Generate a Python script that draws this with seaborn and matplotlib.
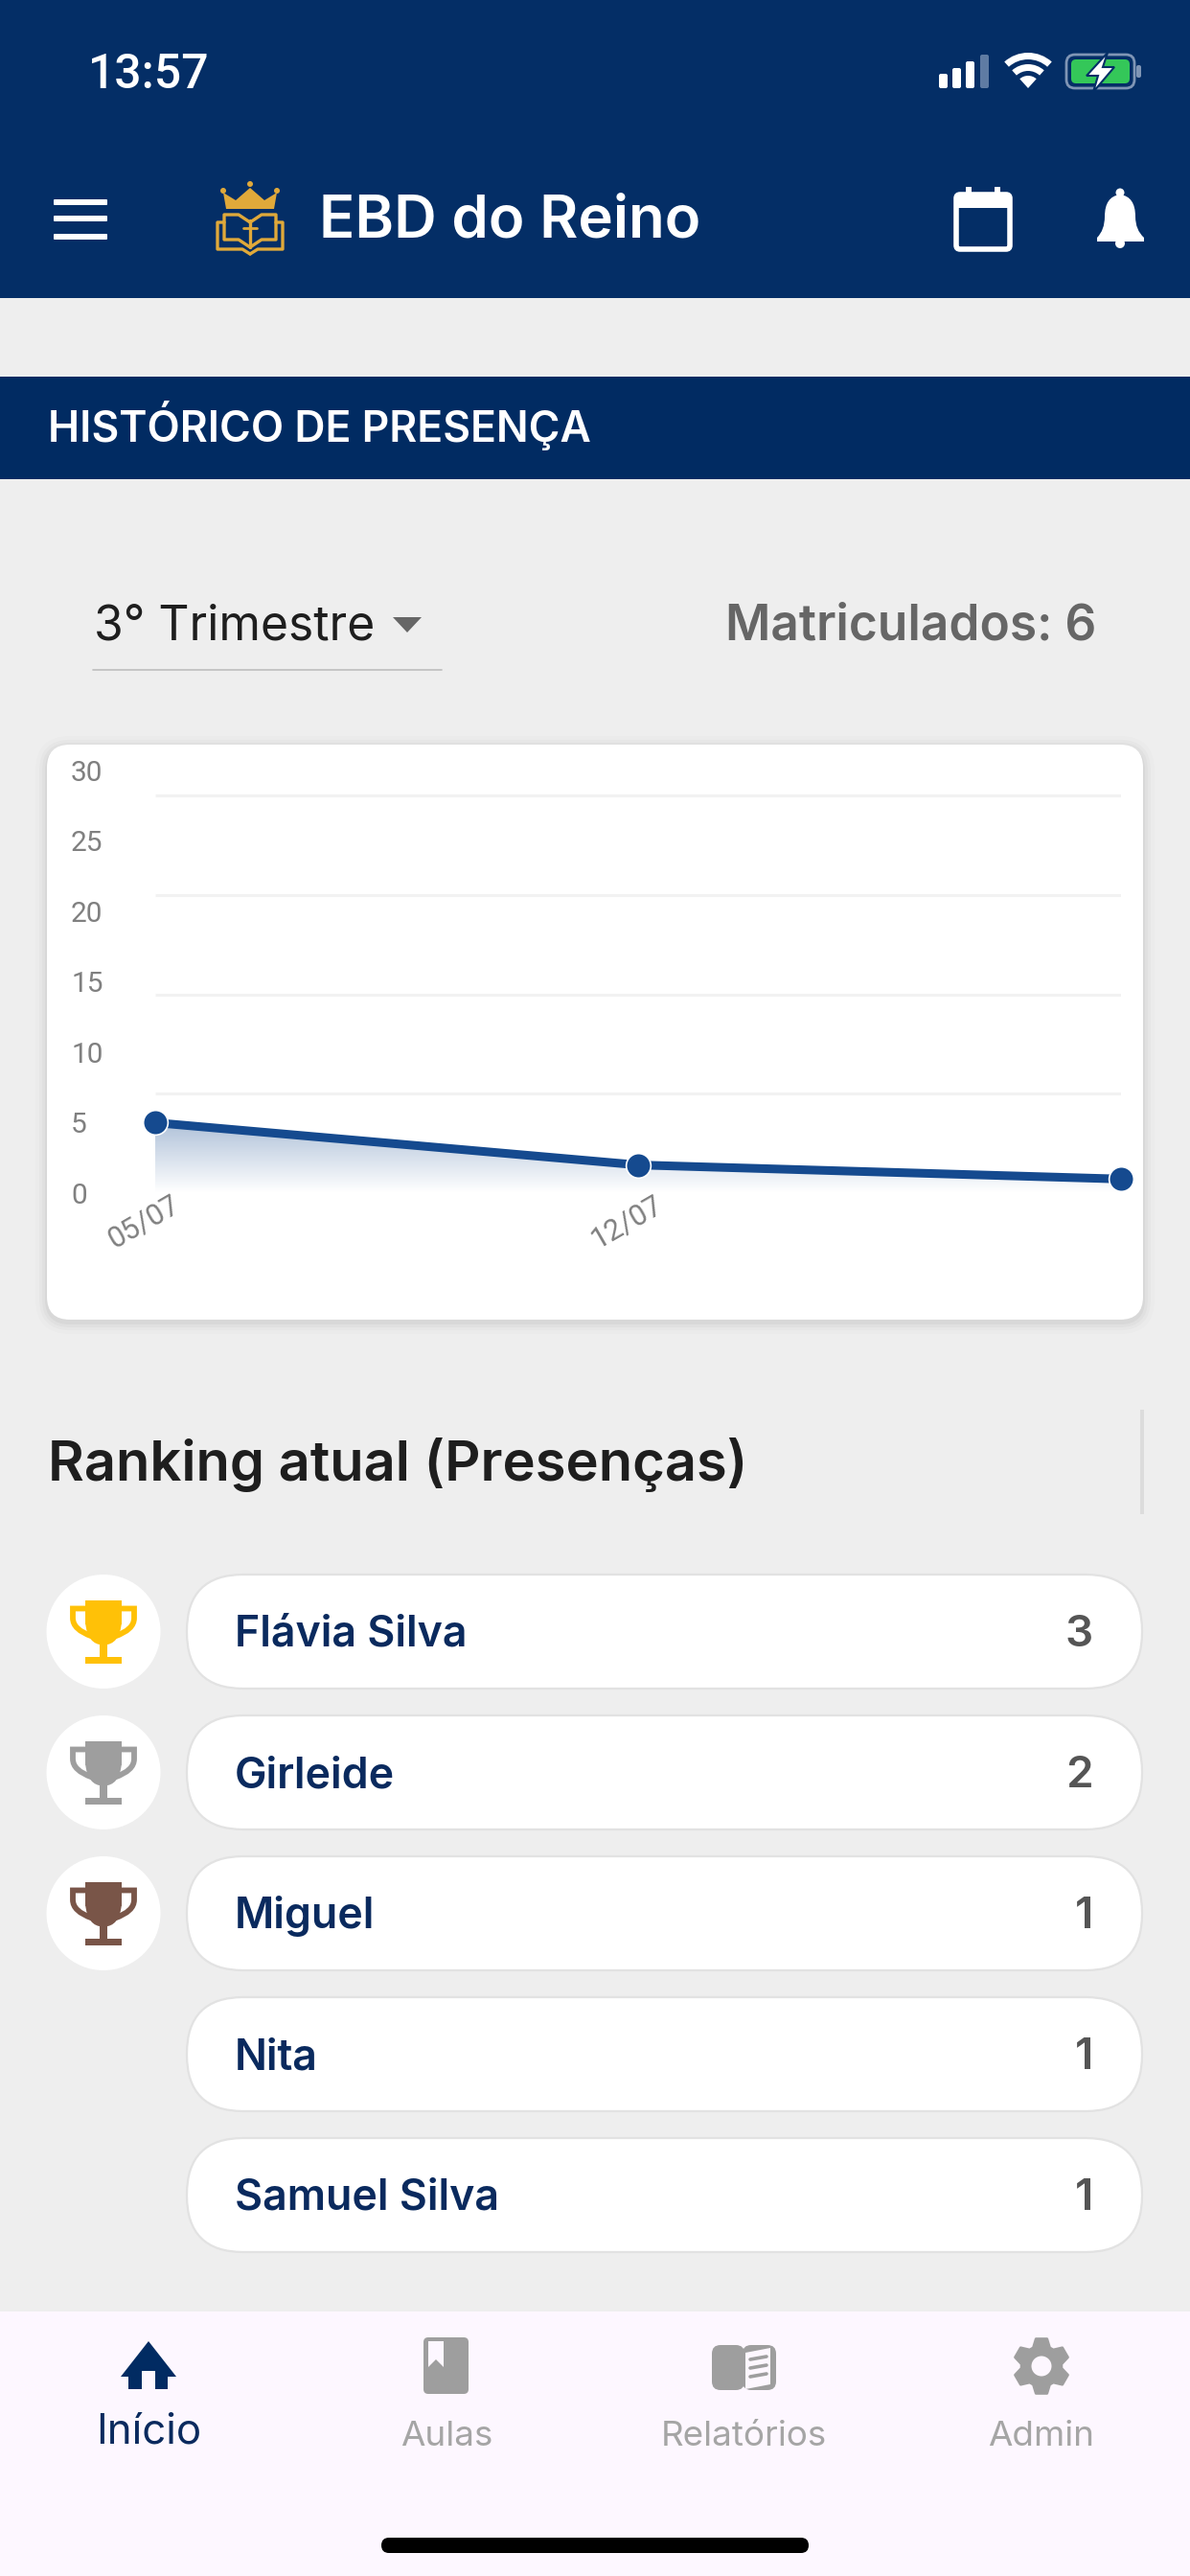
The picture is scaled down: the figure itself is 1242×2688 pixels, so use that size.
import numpy as np
import pandas as pd
import matplotlib
matplotlib.use('Agg')
import matplotlib.pyplot as plt
import seaborn as sns
from matplotlib.path import Path
from matplotlib.patches import Circle, FancyBboxPatch, PathPatch, Polygon, Rectangle, Wedge
from matplotlib.transforms import ScaledTranslation

# chart values
DAYS = [0, 1, 2]
DAY_LABELS = ['05/07', '12/07', '']
PRESENCES = [5, 2, 1]
Y_TICKS = [0, 5, 10, 15, 20, 25, 30]
GRID_LEVELS = [7.07, 14.1, 21.15, 28.2]

# ranking list
NAMES = ['Flávia Silva', 'Girleide', 'Miguel', 'Nita', 'Samuel Silva']
COUNTS = [3, 2, 1, 1, 1]
TROPHY_COLORS = ['#FFC107', '#9E9E9E', '#795548']

# bottom tabs
TABS = ['Início', 'Aulas', 'Relatórios', 'Admin']

NAVY = '#042E66'
BAND = '#012B62'
TEXT_NAVY = '#0A2A5E'
LINE_BLUE = '#154A8F'
GOLD = '#E0A93A'
ICON_GREY = '#9E9E9E'
BG = '#EEEEEE'
NAV_BG = '#FDF7FF'
WIDE = ['Inter', 'Roboto', 'DejaVu Sans']

sns.set_theme(style='white')
plt.rcParams['font.family'] = ['Roboto', 'DejaVu Sans']

fig = plt.figure(figsize=(12.42, 26.88), dpi=100, facecolor=BG)
bg = fig.add_axes([0, 0, 1, 1])
bg.set_xlim(0, 1242)
bg.set_ylim(2688, 0)
bg.axis('off')


def rbox(x0, y0, x1, y1, r, **kw):
    p = FancyBboxPatch((x0, y0), x1 - x0, y1 - y0, boxstyle=f'round,pad=0,rounding_size={r}', **kw)
    bg.add_patch(p)
    return p


def rect(x0, y0, x1, y1, color, **kw):
    bg.add_patch(Rectangle((x0, y0), x1 - x0, y1 - y0, facecolor=color, edgecolor='none', **kw))


def curve(verts, codes, **kw):
    bg.add_patch(PathPatch(Path(verts, codes), **kw))


M, L, C3, Z = Path.MOVETO, Path.LINETO, Path.CURVE3, Path.CLOSEPOLY


def draw_trophy(cx, cy, color):
    rect(cx - 19, cy - 33, cx + 19, cy - 8, color)
    curve([(cx - 19, cy - 10), (cx - 17, cy + 14), (cx, cy + 14), (cx + 17, cy + 14), (cx + 19, cy - 10), (cx - 19, cy - 10)],
          [M, C3, C3, C3, C3, Z], facecolor=color, edgecolor='none')
    rect(cx - 4, cy + 8, cx + 4, cy + 28, color)
    rect(cx - 19, cy + 26, cx + 19, cy + 33, color)
    for s in (-1, 1):
        curve([(cx + s * 19, cy - 24), (cx + s * 32, cy - 24), (cx + s * 32, cy - 14), (cx + s * 32, cy - 2), (cx + s * 12, cy + 5)],
              [M, L, L, C3, C3], facecolor='none', edgecolor=color, lw=4.2)


def draw_status_bar():
    bg.text(92, 92, '13:57', color='white', fontsize=36, fontweight='medium')
    for i, (x, h) in enumerate(zip([980, 994, 1008, 1023], [15, 21, 28, 35])):
        rbox(x, 92 - h, x + 9, 92, 2, facecolor='white' if i < 3 else '#5F7BA3', edgecolor='none')
    for r, w in [(37, 7), (25, 7)]:
        bg.add_patch(Wedge((1073, 92), r, 228, 312, width=w, facecolor='white', edgecolor='none'))
    bg.add_patch(Wedge((1073, 92), 13, 228, 312, facecolor='white', edgecolor='none'))
    rbox(1113, 57, 1184, 92, 9, facecolor='none', edgecolor='#7F95B5', lw=2)
    rbox(1118, 62, 1179, 87, 5, facecolor='#34C759', edgecolor='none')
    rbox(1186, 68, 1191, 81, 2, facecolor='#7F95B5', edgecolor='none')
    bg.add_patch(Polygon([(1156, 55), (1134, 79), (1146, 79), (1141, 96), (1163, 70), (1151, 70)],
                         facecolor='white', edgecolor=NAVY, lw=1.5))


def draw_app_bar():
    rect(0, 0, 1242, 311, NAVY)
    for y in (211, 228, 247):
        rbox(56, y - 3, 112, y + 3, 1, facecolor='white', edgecolor='none')

    # logo: crown over an open book
    bg.add_patch(Polygon([(236, 218), (233, 201), (246, 209), (261, 196), (276, 209), (289, 201), (286, 218)],
                         facecolor=GOLD, edgecolor='none'))
    for x, y in [(233, 199), (261, 192), (289, 199)]:
        bg.add_patch(Circle((x, y), 3, facecolor=GOLD, edgecolor='none'))
    for s in (-1, 1):
        bg.plot([261, 261 + s * 12, 261 + s * 27, 261 + s * 27, 261 + s * 12, 261],
                [232, 224, 224, 250, 250, 258], color=GOLD, lw=2.4)
        bg.plot([261 + s * 27, 261 + s * 34, 261 + s * 34, 261 + s * 8, 261],
                [232, 232, 260, 260, 265], color=GOLD, lw=2.4)
    bg.plot([261, 261], [230, 258], color=GOLD, lw=2.4)
    bg.plot([254, 268], [238, 238], color=GOLD, lw=2)

    bg.text(333, 248, 'EBD do Reino', color='white', fontsize=44.5, fontweight='semibold', family=WIDE)

    # calendar
    rbox(998, 203, 1054, 260, 4, facecolor='none', edgecolor='white', lw=4)
    rect(998, 203, 1054, 217, 'white')
    rect(1008, 195, 1014, 206, 'white')
    rect(1038, 195, 1044, 206, 'white')

    # bell
    curve([(1145, 248), (1153, 240), (1153, 226), (1153, 205), (1169, 203), (1185, 205), (1185, 226), (1185, 240), (1194, 248), (1194, 252), (1145, 252), (1145, 248)],
          [M, C3, C3, C3, C3, C3, C3, C3, C3, L, L, Z], facecolor='white', edgecolor='none')
    bg.add_patch(Circle((1169, 201), 4.5, facecolor='white', edgecolor='none'))
    bg.add_patch(Circle((1169, 254), 5, facecolor='white', edgecolor='none'))


def draw_header_rows():
    rect(0, 393, 1242, 500, BAND)
    bg.text(50, 461, 'HISTÓRICO DE PRESENÇA', color='white', fontsize=32, fontweight='semibold', family=WIDE)

    bg.text(98, 667, '3° Trimestre', color='#1E1E1E', fontsize=35.8, family=WIDE)
    bg.add_patch(Polygon([(410, 644), (440, 644), (425, 660)], facecolor='#666666', edgecolor='none'))
    bg.plot([97, 461], [699, 699], color='#BDBDBD', lw=1.2)
    bg.text(1144, 667, 'Matriculados: 6', color='#666666', fontsize=37, fontweight='semibold', ha='right', family=WIDE)


def draw_card():
    for grow, alpha in [(12, .012), (8, .018), (5, .025), (2, .035)]:
        rbox(49 - grow, 777 - grow + 3, 1193 + grow, 1377 + grow + 3, 24 + grow, facecolor='black', edgecolor='none', alpha=alpha)
    rbox(49, 777, 1193, 1377, 24, facecolor='white', edgecolor='none')


def draw_chart():
    # y 0..30 runs from pixel 1245 up to 804, x from 161.6 to 1170
    ax = fig.add_axes([161.6 / 1242, 1 - 1245 / 2688, (1170 - 161.6) / 1242, (1245 - 804) / 2688], facecolor='none')
    ax.hlines(GRID_LEVELS, 0, 2, color='#F2F2F2', lw=2.2, zorder=1)

    shade = np.zeros((64, 2, 4))
    shade[..., :3] = matplotlib.colors.to_rgb(LINE_BLUE)
    shade[..., 3] = np.linspace(0.34, 0, 64)[:, None]
    im = ax.imshow(shade, extent=[0, 2, 0, 5], aspect='auto', zorder=2, interpolation='bilinear')
    area = ax.fill_between(DAYS, PRESENCES, 0, facecolor='none', edgecolor='none')
    im.set_clip_path(area.get_paths()[0], area.get_transform())

    df = pd.DataFrame({'day': DAYS, 'presences': PRESENCES})
    sns.lineplot(data=df, x='day', y='presences', ax=ax, color=LINE_BLUE, lw=6.5, marker='o',
                 markersize=18.5, markeredgecolor='white', markeredgewidth=1.2, zorder=3, clip_on=False)

    ax.set_xlim(0, 2)
    ax.set_ylim(0, 30)
    ax.set_xlabel('')
    ax.set_ylabel('')
    ax.set_xticks(DAYS, DAY_LABELS)
    ax.set_yticks(Y_TICKS, [str(v) for v in Y_TICKS])
    ax.tick_params(axis='y', length=0, pad=63, labelsize=21.5, labelcolor='#808080')
    ax.tick_params(axis='x', length=0, pad=-2, labelsize=22, labelcolor='#808080')
    for lab in ax.get_yticklabels():
        lab.set_ha('left')
    shift = ScaledTranslation(-0.12, 0, fig.dpi_scale_trans)
    for lab in ax.get_xticklabels():
        lab.set_rotation(30)
        lab.set_ha('center')
        lab.set_transform(lab.get_transform() + shift)
    sns.despine(ax=ax, left=True, bottom=True)


def draw_ranking():
    bg.text(50, 1545, 'Ranking atual (Presenças)', color='#1E1E1E', fontsize=41.7, fontweight='semibold', family=WIDE)
    rect(1190, 1471, 1194, 1580, '#DCDCDC')

    ys = [1702.5 + 147 * i for i in range(len(NAMES))]
    for i, (name, count, y) in enumerate(zip(NAMES, COUNTS, ys)):
        if i < len(TROPHY_COLORS):
            bg.add_patch(Circle((108, y), 59.5, facecolor='white', edgecolor='none'))
            draw_trophy(108, y, TROPHY_COLORS[i])
        rbox(195, y - 59.5, 1192, y + 59.5, 59, facecolor='white', edgecolor='#E2E2E2', lw=1.6)
        bg.text(245, y + 15.5, name, color=TEXT_NAVY, fontsize=32.2, fontweight='semibold', family=WIDE)
        bg.text(1141, y + 15.5, str(count), color='#555555', fontsize=33, fontweight='semibold', ha='right', family=WIDE)


def draw_nav():
    rect(0, 2412, 1242, 2688, NAV_BG)
    cxs = [155, 466, 776, 1087]
    for i, (label, cx) in enumerate(zip(TABS, cxs)):
        if i == 0:
            bg.text(cx, 2550, label, color=TEXT_NAVY, fontsize=31.5, ha='center', family=WIDE)
        else:
            bg.text(cx, 2552, label, color='#A5A5A5', fontsize=26.5, ha='center', family=WIDE)

    # home
    bg.add_patch(Polygon([(155, 2443), (184, 2480), (175, 2480), (175, 2493), (162, 2493), (162, 2474), (148, 2474), (148, 2493), (134, 2493), (134, 2480), (126, 2480)],
                         facecolor=BAND, edgecolor='none'))
    # closed book with bookmark
    rbox(442, 2439, 489, 2498, 5, facecolor=ICON_GREY, edgecolor='none')
    bg.add_patch(Polygon([(447, 2443), (463, 2443), (463, 2470), (455, 2462), (447, 2470)], facecolor=NAV_BG, edgecolor='none'))
    # open book
    rbox(743, 2447, 777, 2494, 9, facecolor=ICON_GREY, edgecolor='none')
    rbox(775, 2447, 810, 2494, 9, facecolor=ICON_GREY, edgecolor='none')
    bg.add_patch(Polygon([(778, 2455), (804, 2450), (804, 2488), (778, 2493)], facecolor=NAV_BG, edgecolor='none'))
    for y in (2461, 2470, 2479):
        bg.plot([783, 800], [y + 1, y - 2], color=ICON_GREY, lw=2.6)
    # gear
    angles = np.deg2rad(np.arange(0, 360, 60) + 90)
    teeth = []
    for a in angles:
        for d, r in [(-0.42, 21), (-0.2, 29), (0.2, 29), (0.42, 21)]:
            teeth.append((1087 + r * np.cos(a + d), 2469 + r * np.sin(a + d)))
    bg.add_patch(Polygon(teeth, facecolor=ICON_GREY, edgecolor=ICON_GREY, lw=2, joinstyle='round'))
    bg.add_patch(Circle((1087, 2469), 10.5, facecolor=NAV_BG, edgecolor='none'))

    rbox(398, 2648, 844, 2664, 8, facecolor='black', edgecolor='none')


draw_app_bar()
draw_status_bar()
draw_header_rows()
draw_card()
draw_chart()
draw_ranking()
draw_nav()

fig.savefig('out.png', dpi=100, facecolor=BG)
